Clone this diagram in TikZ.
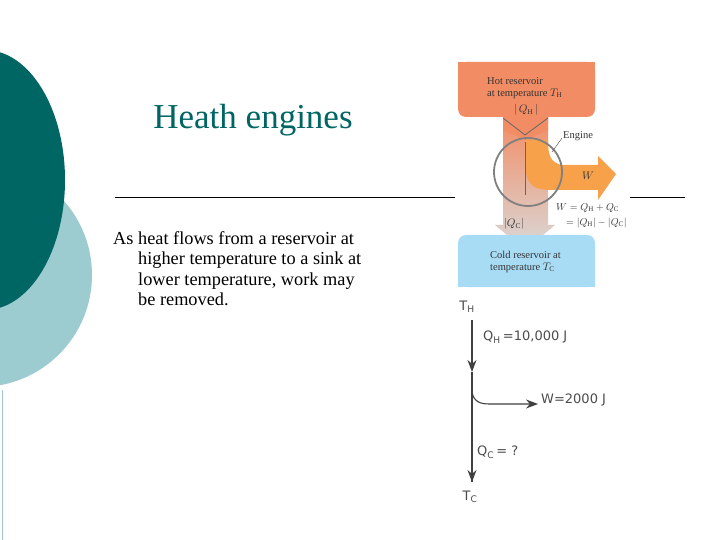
\documentclass[tikz,border=0pt]{standalone}
\usepackage{fontspec}
\setmainfont{Liberation Serif}
\newfontfamily\hand{DejaVu Sans}
\usetikzlibrary{arrows.meta}
\definecolor{darkteal}{HTML}{006664}
\definecolor{lightteal}{HTML}{9CCCD0}
\definecolor{hotc}{HTML}{F28C64}
\definecolor{coldc}{HTML}{A8DCF4}
\definecolor{wc}{HTML}{F7A24A}
\begin{document}
\begin{tikzpicture}[x=1pt,y=-1pt,
  small/.style={font=\fontsize{10.5}{11.5}\selectfont,align=left,text=black!80,inner sep=0pt},
  hw/.style={font=\hand\fontsize{13}{14}\selectfont,text=black!70,inner sep=1pt},
  hwarrow/.style={draw=black!75,line width=1.1pt,-{Stealth[length=12pt,width=9pt]}}]
\useasboundingbox (0,0) rectangle (720,540);
\fill[white] (0,0) rectangle (720,540);
% left decoration
\fill[lightteal] (-20,275) circle (112);
\fill[darkteal] (-15,180) ellipse (80 and 130);
\draw[lightteal,line width=1pt] (2,390) -- (2,540);
% title and rules
\node (title) at (253,120) {\fontsize{35}{40}\selectfont\color{darkteal}Heath engines};
\draw[black,line width=0.6pt] (115,197) -- (455,197);
\draw[black,line width=0.6pt] (630,197) -- (685,197);
\node[anchor=north west,align=left,inner sep=0pt,font=\fontsize{18.3}{20.5}\selectfont] (body) at (113,231)
 {As heat flows from a reservoir at\\\hspace{25pt}higher temperature to a sink at\\\hspace{25pt}lower temperature, work may\\\hspace{25pt}be removed.};
% engine figure
\shade[top color=hotc,bottom color=black!15]
 (503,117) -- (548,117) -- (548,225) -- (555,225) -- (525,250) -- (495,225) -- (503,225) -- cycle;
\fill[wc] (525,140) -- (525,160) .. controls (525,188) and (535,190) .. (555,190) -- (598,190) -- (598,200) -- (616,174) -- (598,156) -- (598,165) -- (565,165) .. controls (548,165) and (548,150) .. (548,140) -- cycle;
\fill[hotc] (503,117) -- (548,117) -- (548,130) -- (525,140) -- (503,130) -- cycle;
\draw[black!60,line width=0.8pt] (503,118) -- (525,135) -- (548,118);
\draw[black!60,line width=0.6pt] (525,142) -- (525,195);
\fill[hotc,rounded corners=8pt] (458,62) -- (595,62) -- (595,117) -- (458,117) -- cycle;
\fill[hotc] (458,62) rectangle (595,100);
\fill[coldc,rounded corners=8pt] (458,235) -- (595,235) -- (595,287) -- (458,287) -- cycle;
\fill[coldc] (458,255) rectangle (595,287);
\draw[black!50,line width=1.8pt] (528,172) circle (34);
\node[small,anchor=west] (hot) at (487,88) {Hot reservoir\\at temperature $T_{\mathrm H}$};
\node[small] (qh) at (526,110) {$|\,Q_{\mathrm H}\,|$};
\node[small,anchor=west] (eng) at (563,136) {Engine};
\draw[black!70,line width=0.4pt] (562,138) -- (552,152);
\node[small] (w) at (588,176) {$W$};
\node[small,anchor=west,font=\fontsize{10}{11}\selectfont] (weq1) at (556,208) {$W=Q_{\mathrm H}+Q_{\mathrm C}$};
\node[small,anchor=west,font=\fontsize{10}{11}\selectfont] (weq2) at (566,223) {$=|Q_{\mathrm H}|-|Q_{\mathrm C}|$};
\node[small] (qc) at (514,224) {$|Q_{\mathrm C}|$};
\node[small,anchor=west] (cold) at (490,262) {Cold reservoir at\\temperature $T_{\mathrm C}$};
% sketch
\node[hw] (th) at (467,307) {T\textsubscript{H}};
\node[hw] (tc) at (470,497) {T\textsubscript{C}};
\coordinate (ttop) at (472,320);
\coordinate (mid) at (472,372);
\coordinate (bot) at (472,482);
\draw[hwarrow] (ttop) -- (mid);
\draw[draw=black!75,line width=1.1pt] (mid) -- (bot);
\draw[hwarrow] (472,465) -- (bot);
\draw[hwarrow] (472,392) .. controls (474,402) and (480,404) .. (490,404) -- (538,404);
\node[hw,anchor=west] (qhl) at (482,337) {Q\textsubscript{H}\,=10,000 J};
\node[hw,anchor=west] (wl) at (540,400) {W=2000 J};
\node[hw,anchor=west] (qcl) at (476,452) {Q\textsubscript{C}\,= ?};
\end{tikzpicture}
\end{document}
